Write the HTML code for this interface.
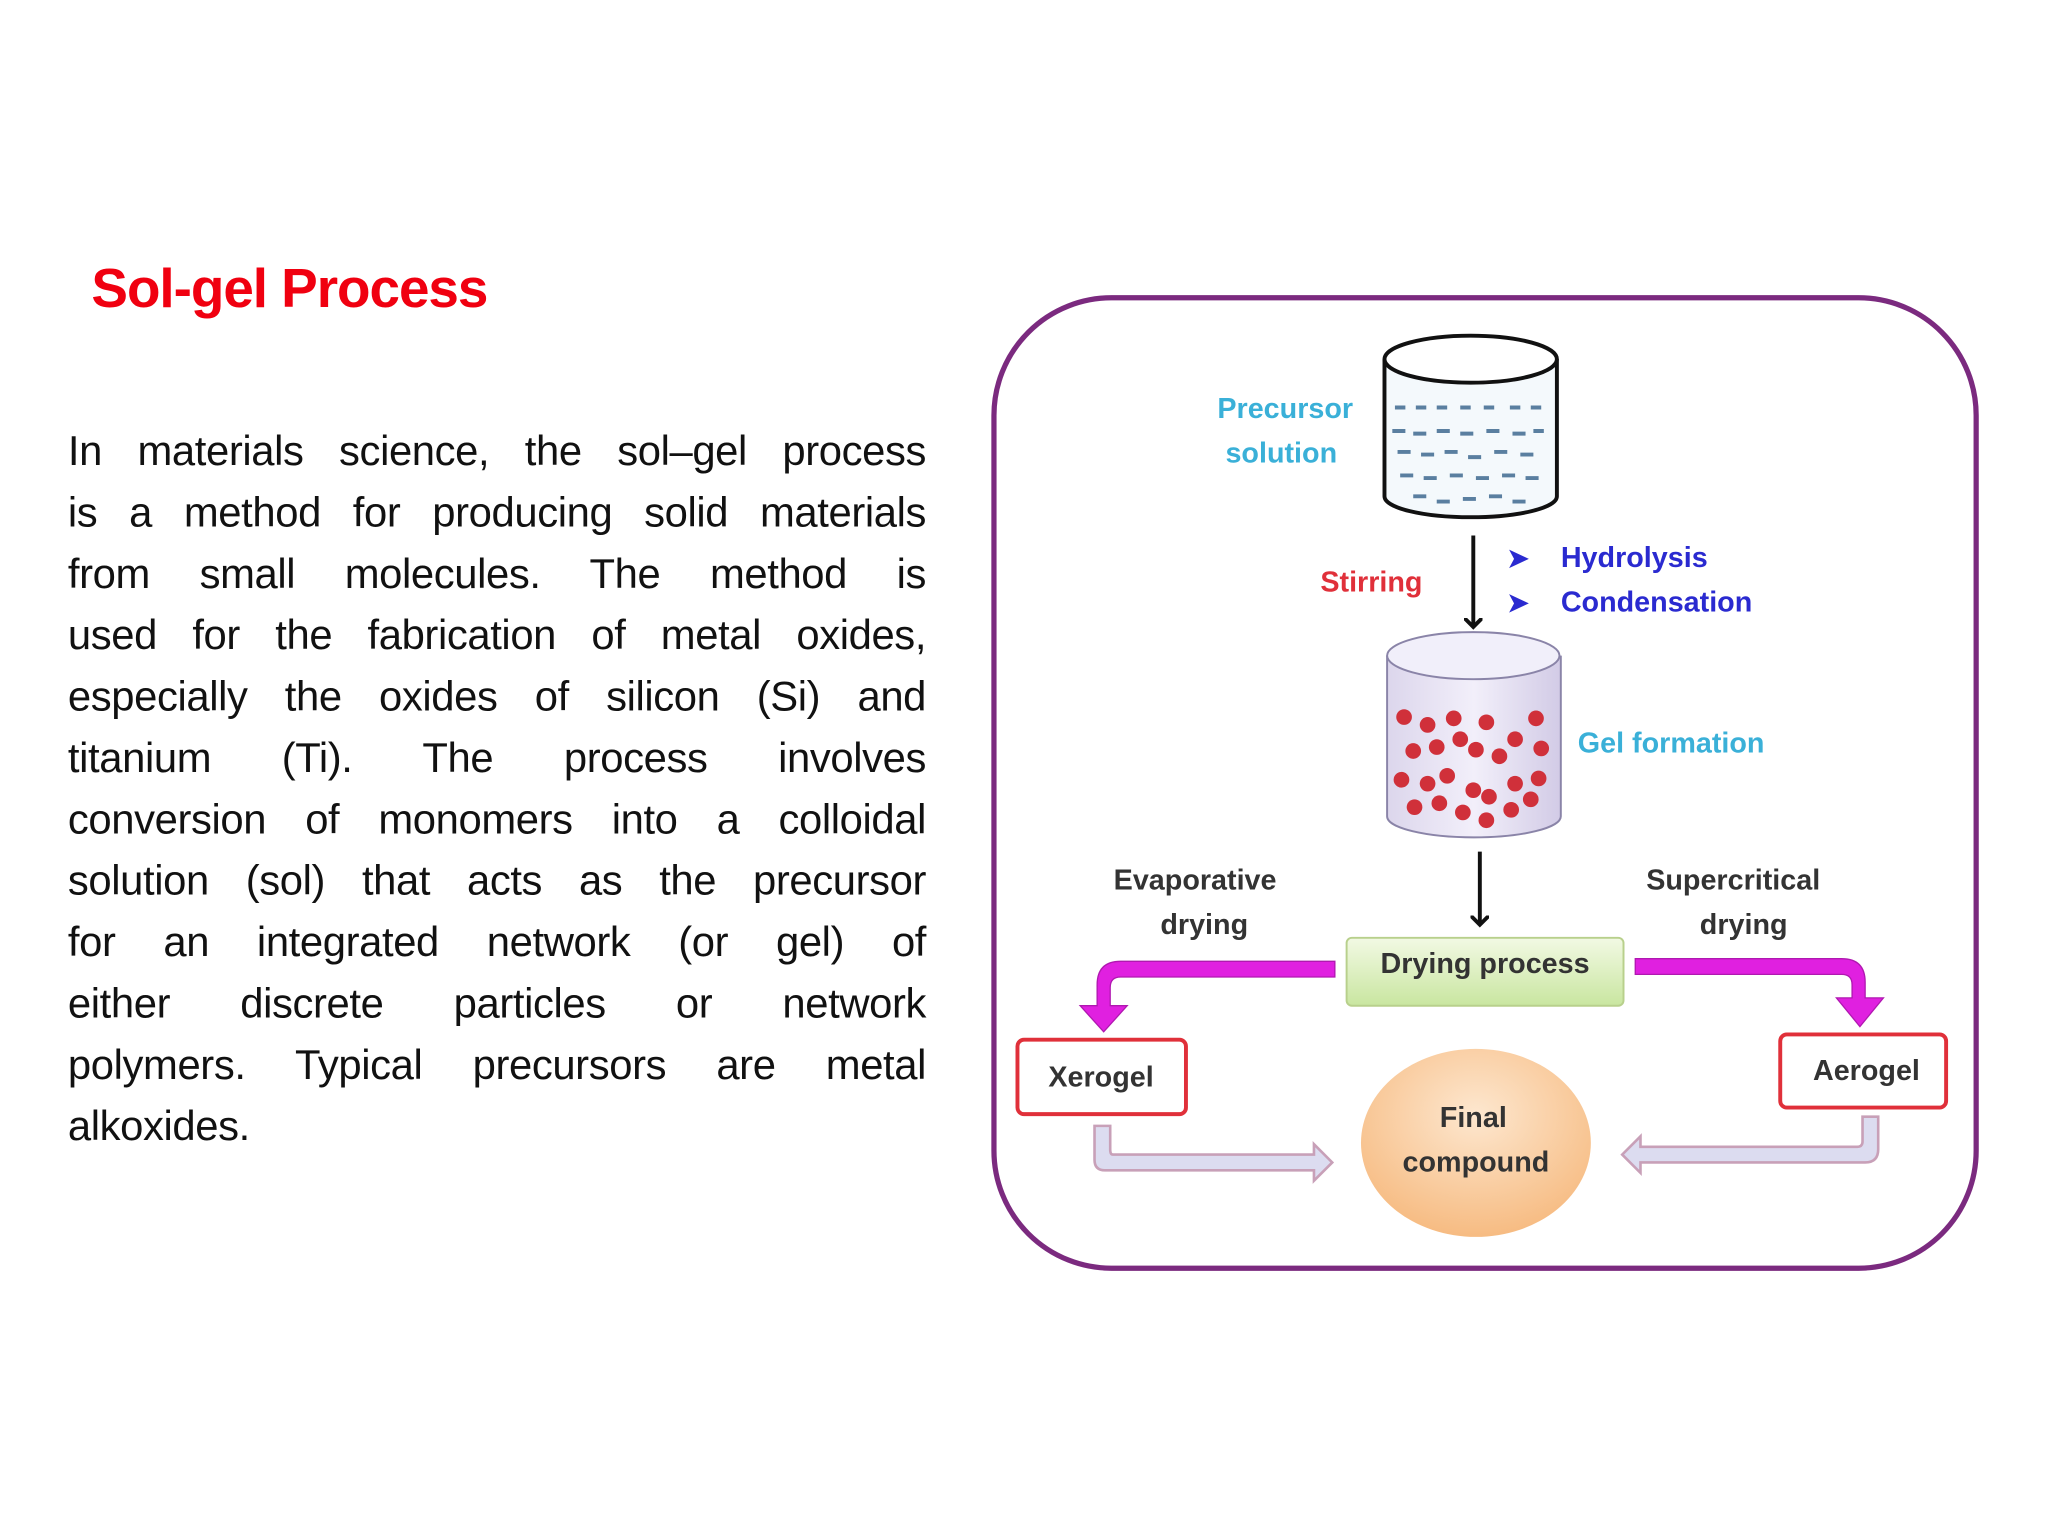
<!DOCTYPE html>
<html><head><meta charset="utf-8">
<style>
html,body{margin:0;padding:0;background:#fff;width:2048px;height:1536px;overflow:hidden}
#w{position:absolute;left:0;top:0;width:1568px;height:1176px;transform:scale(1.30612);transform-origin:0 0;font-family:"Liberation Sans",sans-serif}
h1{position:absolute;left:70px;top:197px;margin:0;font-size:42px;color:#f00010;font-weight:bold;letter-spacing:-0.8px}
#t{position:absolute;left:52px;top:322px;width:657px;font-size:32px;line-height:47px;color:#111;letter-spacing:-0.3px}
#t div{text-align:justify;text-align-last:justify;white-space:nowrap;height:47px}
#t div.l{text-align-last:left}
svg{position:absolute;left:0;top:0}
</style></head><body><div id="w">
<h1>Sol-gel Process</h1>
<div id="t">
<div>In materials science, the sol–gel process</div>
<div>is a method for producing solid materials</div>
<div>from small molecules. The method is</div>
<div>used for the fabrication of metal oxides,</div>
<div>especially the oxides of silicon (Si) and</div>
<div>titanium (Ti). The process involves</div>
<div>conversion of monomers into a colloidal</div>
<div>solution (sol) that acts as the precursor</div>
<div>for an integrated network (or gel) of</div>
<div>either discrete particles or network</div>
<div>polymers. Typical precursors are metal</div>
<div class="l">alkoxides.</div>
</div>
<svg width="1568" height="1176" viewBox="0 0 1568 1176" font-family="Liberation Sans, sans-serif" font-weight="bold">
<defs>
<linearGradient id="g1" x1="0" y1="0" x2="0" y2="1"><stop offset="0" stop-color="#f2f9e4"/><stop offset="1" stop-color="#c9e6a0"/></linearGradient>
<radialGradient id="g2" cx="0.5" cy="0.35" r="0.7"><stop offset="0" stop-color="#fde7cf"/><stop offset="1" stop-color="#f6b87c"/></radialGradient>
<linearGradient id="g3" x1="0" y1="0" x2="1" y2="0"><stop offset="0" stop-color="#dcd6ec"/><stop offset="0.5" stop-color="#f2effa"/><stop offset="1" stop-color="#d2cbe6"/></linearGradient>
<marker id="ah" markerWidth="14" markerHeight="14" refX="7" refY="7" orient="auto" markerUnits="userSpaceOnUse"><path d="M0,0 L7,7 L0,14" fill="none" stroke="#111" stroke-width="3"/></marker>
</defs>
<rect x="761" y="228" width="752" height="743" rx="90" fill="#fff" stroke="#7b2a7f" stroke-width="4"/>
<path d="M1060,275 L1060,380 A66,16 0 0 0 1192,380 L1192,275" fill="#f4f9fc" stroke="#111" stroke-width="3"/>
<ellipse cx="1126" cy="275" rx="66" ry="18" fill="#fff" stroke="#111" stroke-width="3"/>
<g stroke="#5a7fa0" stroke-width="3">
<path d="M1068,312h8M1084,312h8M1100,312h8M1118,312h8M1136,312h8M1156,312h8M1172,312h8"/>
<path d="M1066,330h10M1082,332h10M1100,330h10M1118,332h10M1138,330h10M1158,332h10M1174,330h8"/>
<path d="M1070,346h10M1088,348h10M1106,346h10M1124,350h10M1144,346h10M1164,348h10"/>
<path d="M1072,364h10M1090,366h10M1110,364h10M1130,366h10M1150,364h10M1168,366h10"/>
<path d="M1082,380h10M1100,384h10M1120,382h10M1140,380h10M1158,384h10"/>
</g>
<text x="984" y="320" text-anchor="middle" font-size="22" fill="#3ab0d8">Precursor</text>
<text x="981" y="354" text-anchor="middle" font-size="22" fill="#3ab0d8">solution</text>
<line x1="1128" y1="410" x2="1128" y2="480" stroke="#111" stroke-width="3" marker-end="url(#ah)"/>
<text x="1050" y="453" text-anchor="middle" font-size="22" fill="#e0303a">Stirring</text>
<text x="1154" y="434" font-size="20" fill="#2a2ad0">➤</text>
<text x="1154" y="468" font-size="20" fill="#2a2ad0">➤</text>
<text x="1195" y="434" font-size="22" fill="#2a2ad0">Hydrolysis</text>
<text x="1195" y="468" font-size="22" fill="#2a2ad0">Condensation</text>
<path d="M1062,502 L1062,625 A66,16 0 0 0 1195,625 L1195,502" fill="url(#g3)" stroke="#8a84a8" stroke-width="1.5"/>
<ellipse cx="1128" cy="502" rx="66" ry="18" fill="#f1effa" stroke="#8a84a8" stroke-width="1.5"/>
<g fill="#d0303a">
<circle cx="1075" cy="549" r="6"/><circle cx="1093" cy="555" r="6"/><circle cx="1113" cy="550" r="6"/><circle cx="1138" cy="553" r="6"/><circle cx="1160" cy="566" r="6"/><circle cx="1176" cy="550" r="6"/>
<circle cx="1082" cy="575" r="6"/><circle cx="1100" cy="572" r="6"/><circle cx="1118" cy="566" r="6"/><circle cx="1130" cy="574" r="6"/><circle cx="1148" cy="579" r="6"/><circle cx="1180" cy="573" r="6"/>
<circle cx="1073" cy="597" r="6"/><circle cx="1093" cy="600" r="6"/><circle cx="1108" cy="594" r="6"/><circle cx="1128" cy="605" r="6"/><circle cx="1140" cy="610" r="6"/><circle cx="1160" cy="600" r="6"/><circle cx="1178" cy="596" r="6"/>
<circle cx="1083" cy="618" r="6"/><circle cx="1102" cy="615" r="6"/><circle cx="1120" cy="622" r="6"/><circle cx="1138" cy="628" r="6"/><circle cx="1157" cy="620" r="6"/><circle cx="1172" cy="612" r="6"/>
</g>
<text x="1208" y="576" font-size="22" fill="#3ab0d8">Gel formation</text>
<line x1="1133" y1="652" x2="1133" y2="708" stroke="#111" stroke-width="3" marker-end="url(#ah)"/>
<text x="915" y="681" text-anchor="middle" font-size="22" fill="#333">Evaporative</text>
<text x="922" y="715" text-anchor="middle" font-size="22" fill="#333">drying</text>
<text x="1327" y="681" text-anchor="middle" font-size="22" fill="#333">Supercritical</text>
<text x="1335" y="715" text-anchor="middle" font-size="22" fill="#333">drying</text>
<rect x="1031" y="718" width="212" height="52" rx="4" fill="url(#g1)" stroke="#b8d08c" stroke-width="1.5"/>
<text x="1137" y="745" text-anchor="middle" font-size="22" fill="#333">Drying process</text>
<path d="M1022,736 L858,736 Q840,736 840,754 L840,770 L827,770 L845,790 L863,770 L850,770 L850,756 Q850,748 858,748 L1022,748 Z" fill="#e020e0" stroke="#b018b0" stroke-width="1"/>
<path d="M1252,734 L1410,734 Q1428,734 1428,752 L1428,764 L1442,764 L1424,786 L1406,764 L1418,764 L1418,754 Q1418,746 1410,746 L1252,746 Z" fill="#e020e0" stroke="#b018b0" stroke-width="1"/>
<rect x="779" y="796" width="129" height="57" rx="5" fill="#fff" stroke="#e0303a" stroke-width="3"/>
<text x="843" y="832" text-anchor="middle" font-size="22" fill="#333">Xerogel</text>
<rect x="1363" y="792" width="127" height="56" rx="5" fill="#fff" stroke="#e0303a" stroke-width="3"/>
<text x="1429" y="827" text-anchor="middle" font-size="22" fill="#333">Aerogel</text>
<ellipse cx="1130" cy="875" rx="88" ry="72" fill="url(#g2)"/>
<text x="1128" y="863" text-anchor="middle" font-size="22" fill="#333">Final</text>
<text x="1130" y="897" text-anchor="middle" font-size="22" fill="#333">compound</text>
<path d="M838,862 L838,888 Q838,896 846,896 L1006,896 L1006,904 L1020,890 L1006,876 L1006,884 L852,884 Q850,884 850,880 L850,862 Z" fill="#dcdcf0" stroke="#c8a0b8" stroke-width="2"/>
<path d="M1438,855 L1438,880 Q1438,890 1428,890 L1256,890 L1256,898 L1242,884 L1256,870 L1256,878 L1422,878 Q1426,878 1426,874 L1426,855 Z" fill="#dcdcf0" stroke="#c8a0b8" stroke-width="2"/>
</svg>
</div></body></html>
